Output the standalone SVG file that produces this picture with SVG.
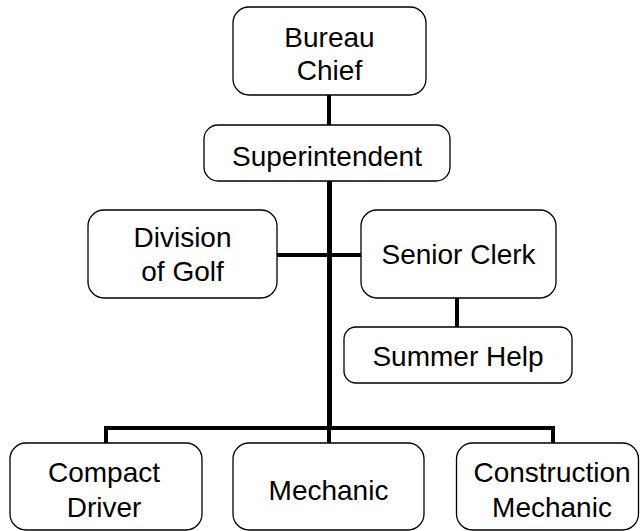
<svg xmlns="http://www.w3.org/2000/svg" width="640" height="531" viewBox="0 0 640 531">
  <style>
    .box { fill: #ffffff; stroke: #000000; stroke-width: 1.3; }
    .lbl { font-family: "Liberation Sans", Arial, sans-serif; font-size: 28px; fill: #000000; text-anchor: middle; }
    .wire { stroke: #000000; stroke-width: 4; fill: none; }
    .trunk { stroke: #000000; stroke-width: 5; fill: none; }
  </style>
  <rect width="640" height="531" fill="#ffffff"/>

  <g id="connectors">
    <line class="wire" x1="329" y1="95" x2="329" y2="125"/>
    <line class="trunk" x1="329.5" y1="181" x2="329.5" y2="430"/>
    <line class="wire" x1="277" y1="255" x2="361" y2="255"/>
    <line class="wire" x1="457" y1="298" x2="457" y2="327"/>
    <polyline class="wire" points="106,443 106,428 553,428 553,443"/>
    <line class="wire" x1="329" y1="428" x2="329" y2="443"/>
  </g>

  <g id="bureau-chief">
    <rect class="box" x="233" y="7" width="193" height="88" rx="16"/>
    <text class="lbl" x="329.5" y="47">Bureau</text>
    <text class="lbl" x="329.5" y="80">Chief</text>
  </g>

  <g id="superintendent">
    <rect class="box" x="204" y="125" width="246" height="56" rx="14"/>
    <text class="lbl" x="327" y="166">Superintendent</text>
  </g>

  <g id="division-of-golf">
    <rect class="box" x="88" y="210" width="189" height="88" rx="16"/>
    <text class="lbl" x="182.5" y="247">Division</text>
    <text class="lbl" x="182.5" y="281">of Golf</text>
  </g>

  <g id="senior-clerk">
    <rect class="box" x="361" y="210" width="195" height="88" rx="16"/>
    <text class="lbl" x="458.5" y="264">Senior Clerk</text>
  </g>

  <g id="summer-help">
    <rect class="box" x="344" y="327" width="228" height="56" rx="12"/>
    <text class="lbl" x="458" y="366">Summer Help</text>
  </g>

  <g id="compact-driver">
    <rect class="box" x="10" y="443" width="192" height="87" rx="16"/>
    <text class="lbl" x="104" y="482">Compact</text>
    <text class="lbl" x="104" y="517">Driver</text>
  </g>

  <g id="mechanic">
    <rect class="box" x="233" y="443" width="191" height="87" rx="16"/>
    <text class="lbl" x="328.5" y="500">Mechanic</text>
  </g>

  <g id="construction-mechanic">
    <rect class="box" x="456.5" y="443" width="182" height="87" rx="16"/>
    <text class="lbl" x="552" y="482">Construction</text>
    <text class="lbl" x="552" y="517">Mechanic</text>
  </g>
</svg>
